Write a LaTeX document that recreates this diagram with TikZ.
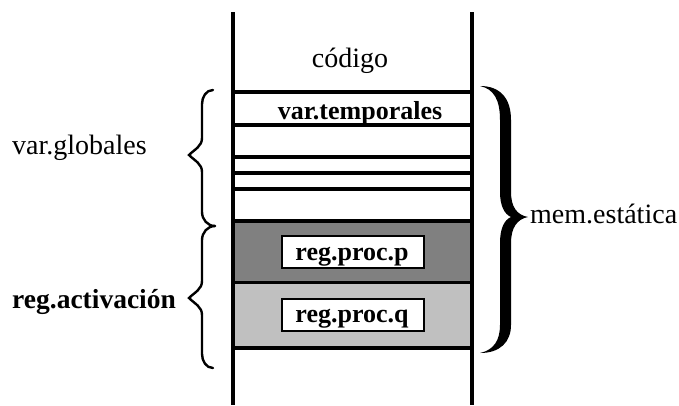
\documentclass[tikz,border=0pt]{standalone}
\usepackage{fontspec}
\setmainfont{Liberation Serif}
\begin{document}
\begin{tikzpicture}[x=1pt,y=-1pt,
  wall/.style={line width=4pt},
  sep/.style={line width=4pt},
  lbrace/.style={line width=2.4pt,line cap=round},
  txt/.style={inner sep=0pt,font=\fontsize{28}{30}\selectfont},
  btxt/.style={inner sep=0pt,font=\fontsize{26}{30}\selectfont\bfseries},
  pbox/.style={draw=black,line width=1.2pt,fill=white,minimum width=142pt,minimum height=32pt,inner sep=0pt}
]
\useasboundingbox (0,0) rectangle (679,405);
% shaded regions
\fill[fill={rgb,255:red,128;green,128;blue,128}] (233,221) rectangle (472,282);
\fill[fill={rgb,255:red,192;green,192;blue,192}] (233,282) rectangle (472,348);
% horizontal separators
\foreach \yy in {92,125,157,173,189,221,348} \draw[sep] (233,\yy) -- (472,\yy);
\draw[line width=3pt] (233,282) -- (472,282);
% walls
\coordinate (lt) at (233,12); \coordinate (lb) at (233,405);
\coordinate (rt) at (472,12); \coordinate (rb) at (472,405);
\draw[wall] (lt) -- (lb);
\draw[wall] (rt) -- (rb);
% boxes
\node[pbox] (pb) at (353,252) {};
\node[pbox] (qb) at (353,315) {};
\node[btxt,anchor=base] (pt) at (352,260) {reg.proc.p};
\node[btxt,anchor=base] (qt) at (352,322) {reg.proc.q};
% texts
\node[txt,anchor=base] (cod) at (350,67) {código};
\node[btxt,anchor=base] (vt) at (360,119) {var.temporales};
\node[txt,anchor=base west] (vg) at (12,154) {var.globales};
\node[btxt,anchor=base west,font=\fontsize{27.5}{30}\selectfont\bfseries] (ra) at (12,308) {reg.activación};
\node[txt,anchor=base west] (me) at (530,223) {mem.estática};
% left braces
\draw[lbrace] (213,90) to[out=180,in=90] (202,104) -- (202,138) to[out=-90,in=45] (189,155)
  to[out=-45,in=90] (202,172) -- (202,212) to[out=-90,in=180] (215,226);
\draw[lbrace] (215,226) to[out=180,in=90] (202,240) -- (202,281) to[out=-90,in=45] (189,298)
  to[out=-45,in=90] (202,315) -- (202,354) to[out=-90,in=180] (213,368);
% right brace (filled)
\fill (480,86) .. controls (500,86) and (511,98) .. (511,120) -- (511,192)
  .. controls (511,207) and (517,215) .. (528,217)
  .. controls (517,219) and (511,228) .. (511,243) -- (511,325)
  .. controls (511,342) and (500,353) .. (480,353)
  .. controls (494,350) and (500,340) .. (500,325) -- (500,243)
  .. controls (500,229) and (504,220) .. (511,217)
  .. controls (504,214) and (500,205) .. (500,192) -- (500,120)
  .. controls (500,100) and (494,89) .. (480,86) -- cycle;
\end{tikzpicture}
\end{document}
